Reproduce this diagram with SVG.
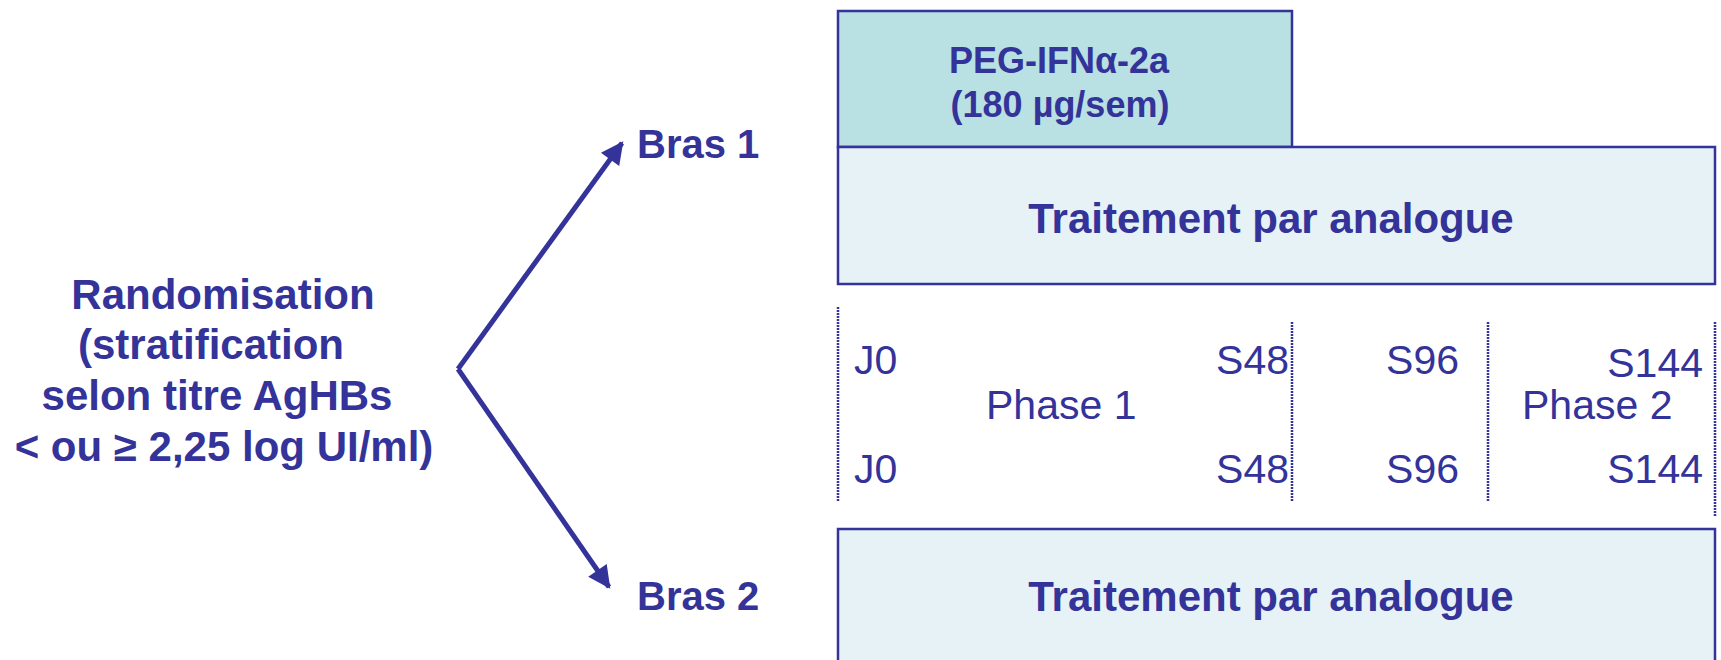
<svg xmlns="http://www.w3.org/2000/svg" width="1721" height="660" viewBox="0 0 1721 660">
<style>
.b{font-family:"Liberation Sans",Arial,sans-serif;font-weight:bold;fill:#333399}
.r{font-family:"Liberation Sans",Arial,sans-serif;fill:#333399;font-size:41px}
.box{stroke:#333399;stroke-width:2.5}
.dot{stroke:#333399;stroke-width:2.5;stroke-dasharray:2 1;fill:none}
.arr{stroke:#333399;stroke-width:5;fill:none}
</style>
<defs>
<marker id="ah" viewBox="0 0 10 10" refX="9" refY="5" markerWidth="5" markerHeight="4.5" orient="auto" markerUnits="strokeWidth">
<path d="M0,0 L10,5 L0,10 z" fill="#333399"/>
</marker>
</defs>
<rect width="1721" height="660" fill="#ffffff"/>
<g id="randomisation">
<text class="b" font-size="42" text-anchor="middle"><tspan x="223" y="309">Randomisation</tspan><tspan x="211" y="359">(stratification</tspan><tspan x="217" y="410">selon titre AgHBs</tspan><tspan x="224" y="461">&lt; ou ≥ 2,25 log UI/ml)</tspan></text>
</g>
<g id="connectors">
<path class="arr" d="M458,369 L622,143" marker-end="url(#ah)"/>
<path class="arr" d="M458,369 L609,587" marker-end="url(#ah)"/>
</g>
<g id="bras1"><text class="b" font-size="40" x="637" y="158">Bras 1</text></g>
<g id="bras2"><text class="b" font-size="40" x="637" y="610">Bras 2</text></g>
<g id="peg">
<rect class="box" x="838" y="11" width="454" height="136" fill="#b9e0e3"/>
<text class="b" font-size="36" text-anchor="middle"><tspan x="1059" y="73">PEG-IFNα-2a</tspan><tspan x="1060" y="117">(180 µg/sem)</tspan></text>
</g>
<g id="analogue1">
<rect class="box" x="838" y="147" width="877" height="137" fill="#e6f2f5"/>
<text class="b" font-size="42" x="1271" y="233" text-anchor="middle">Traitement par analogue</text>
</g>
<g id="timeline">
<line class="dot" x1="838" y1="307" x2="838" y2="502"/>
<line class="dot" x1="1292" y1="322" x2="1292" y2="501"/>
<line class="dot" x1="1488" y1="322" x2="1488" y2="501"/>
<line class="dot" x1="1715" y1="322" x2="1715" y2="516"/>
<text class="r" x="854" y="374">J0</text>
<text class="r" x="1289" y="374" text-anchor="end">S48</text>
<text class="r" x="1459" y="374" text-anchor="end">S96</text>
<text class="r" x="1703" y="377" text-anchor="end">S144</text>
<text class="r" x="986" y="419">Phase 1</text>
<text class="r" x="1522" y="419">Phase 2</text>
<text class="r" x="854" y="483">J0</text>
<text class="r" x="1289" y="483" text-anchor="end">S48</text>
<text class="r" x="1459" y="483" text-anchor="end">S96</text>
<text class="r" x="1703" y="483" text-anchor="end">S144</text>
</g>
<g id="analogue2">
<rect class="box" x="838" y="529" width="877" height="140" fill="#e6f2f5"/>
<text class="b" font-size="42" x="1271" y="611" text-anchor="middle">Traitement par analogue</text>
</g>
</svg>
